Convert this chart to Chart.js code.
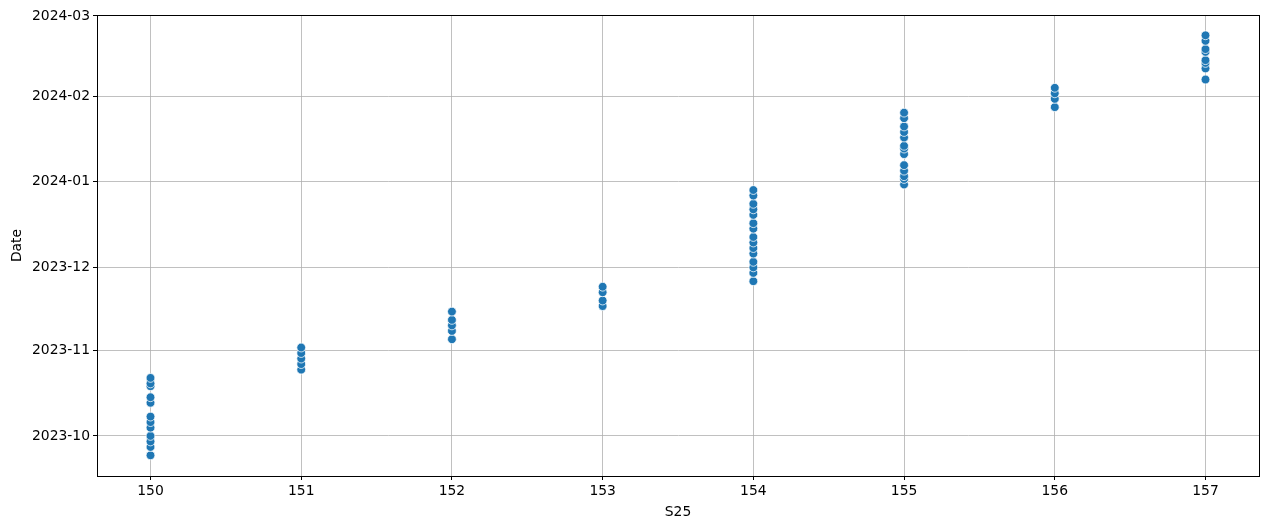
<!DOCTYPE html>
<html><head><meta charset="utf-8">
<script src="https://cdn.jsdelivr.net/npm/chart.js@4/dist/chart.umd.min.js"></script>
<style>html,body{margin:0;padding:0;background:#fff}</style>
</head><body>
<canvas id="c" width="1269" height="529"></canvas>
<script>
// ---- data ----
const categories = [150, 151, 152, 153, 154, 155, 156, 157];
const dates150 = ['2023-09-24','2023-09-27','2023-09-29','2023-10-01','2023-10-04','2023-10-06','2023-10-08','2023-10-13','2023-10-15','2023-10-19','2023-10-20','2023-10-22'];
const dates151 = ['2023-10-25','2023-10-27','2023-10-29','2023-10-31','2023-11-02'];
const dates152 = ['2023-11-05','2023-11-08','2023-11-10','2023-11-12','2023-11-15'];
const dates153 = ['2023-11-17','2023-11-19','2023-11-22','2023-11-24'];
const dates154 = ['2023-11-26','2023-11-29','2023-12-01','2023-12-03','2023-12-06','2023-12-08','2023-12-10','2023-12-12','2023-12-15','2023-12-17','2023-12-20','2023-12-22','2023-12-24','2023-12-27','2023-12-29'];
const dates155 = ['2023-12-31','2024-01-02','2024-01-03','2024-01-05','2024-01-07','2024-01-11','2024-01-13','2024-01-14','2024-01-17','2024-01-19','2024-01-21','2024-01-24','2024-01-26'];
const dates156 = ['2024-01-28','2024-01-31','2024-02-02','2024-02-04'];
const dates157 = ['2024-02-07','2024-02-11','2024-02-13','2024-02-14','2024-02-17','2024-02-18','2024-02-21','2024-02-23'];
const dateGroups = [dates150, dates151, dates152, dates153, dates154, dates155, dates156, dates157];
const yTickLabels = ['2023-10','2023-11','2023-12','2024-01','2024-02','2024-03'];

// ---- helpers ----
const toDay = s => { const [y,m,d] = s.split('-').map(Number); return Date.UTC(y, m-1, d) / 86400000; };
const fmtDay = v => { const d = new Date(Math.round(v) * 86400000); return d.getUTCFullYear() + '-' + String(d.getUTCMonth()+1).padStart(2,'0'); };

const points = [];
categories.forEach((c, i) => dateGroups[i].forEach(s => points.push({x: c, y: toDay(s)})));

const yTickValues = yTickLabels.map(l => toDay(l + '-01'));
const yMin = toDay('2023-10-01') - 14.5;
const yMax = toDay('2024-03-01') + 0.35;

const FONT = {family: 'DejaVu Sans', size: 13.9};

const frame = {
  id: 'frame',
  afterDraw(chart) {
    const {ctx, chartArea: a} = chart;
    ctx.save();
    ctx.strokeStyle = '#000';
    ctx.lineWidth = 1;
    ctx.strokeRect(Math.round(a.left) + 0.5, Math.round(a.top) + 0.5, Math.round(a.right - a.left), Math.round(a.bottom - a.top));
    ctx.restore();
  }
};

new Chart(document.getElementById('c'), {
  type: 'scatter',
  data: {
    datasets: [{
      data: points,
      backgroundColor: '#1f77b4',
      borderColor: '#ffffff',
      borderWidth: 0.75,
      pointRadius: 4.4,
      pointHoverRadius: 4.4
    }]
  },
  options: {
    responsive: false,
    animation: false,
    layout: {padding: {left: 0, right: 10, top: 15, bottom: 0}},
    plugins: {legend: {display: false}, tooltip: {enabled: false}},
    scales: {
      x: {
        type: 'linear',
        min: 149.645,
        max: 157.355,
        afterBuildTicks: s => { s.ticks = categories.map(v => ({value: v})); },
        afterFit: s => { s.height = 53; },
        ticks: {color: '#000', font: FONT, padding: 3, maxRotation: 0, callback: v => String(v)},
        grid: {color: '#b0b0b0', lineWidth: 0.8, tickColor: '#000', tickLength: 4, tickWidth: 1},
        border: {color: '#000', width: 1},
        title: {display: true, text: 'S25', color: '#000', font: FONT, padding: {top: 0, bottom: 8}}
      },
      y: {
        type: 'linear',
        min: yMin,
        max: yMax,
        afterBuildTicks: s => { s.ticks = yTickValues.map(v => ({value: v})); },
        afterFit: s => { s.width = 97; },
        ticks: {color: '#000', font: FONT, padding: 3, callback: v => fmtDay(v)},
        grid: {color: '#b0b0b0', lineWidth: 0.8, tickColor: '#000', tickLength: 4, tickWidth: 1},
        border: {color: '#000', width: 1},
        title: {display: true, text: 'Date', color: '#000', font: FONT, padding: {top: 9, bottom: 0}}
      }
    }
  },
  plugins: [frame]
});
</script>
</body></html>
